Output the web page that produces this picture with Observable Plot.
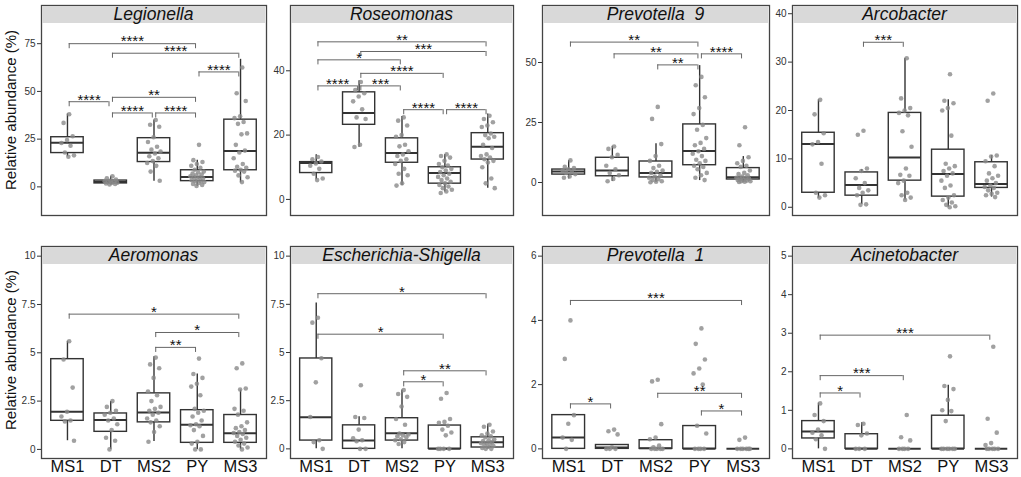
<!DOCTYPE html>
<html><head><meta charset="utf-8">
<script src="https://cdn.jsdelivr.net/npm/d3@7"></script>
<script src="https://cdn.jsdelivr.net/npm/@observablehq/plot@0.6"></script>
<style>
body{margin:0;background:#fff;font-family:"Liberation Sans",Arial,sans-serif;}
#wrap{position:relative;width:1021px;height:477px;overflow:hidden;background:#fff;}
.panel{position:absolute;}
.strip{position:absolute;background:#d9d9d9;font-style:italic;font-size:17.5px;text-align:center;white-space:pre;color:#111;}
.ylab{position:absolute;font-size:15px;white-space:nowrap;color:#111;transform:translate(-50%,-50%) rotate(-90deg);}
</style></head><body><div id="wrap"></div>
<script>
const groups = ["MS1","DT","MS2","PY","MS3"];
const genera = ["Legionella","Roseomonas","Prevotella  9","Arcobacter","Aeromonas","Escherichia-Shigella","Prevotella  1","Acinetobacter"];

// y-axis domains and ticks
const yDomains = [[-15,95],[-5,60.3],[-13.75,73.75],[-1.7,41.7],[-0.47,10.5],[-0.5,10.5],[-0.3,6.3],[-0.25,5.25]];
const yTicks = [[0,25,50,75],[0,20,40],[0,25,50],[0,10,20,30,40],[0,2.5,5,7.5,10],[0,2.5,5,7.5,10],[0,2,4,6],[0,1,2,3,4,5]];

// points per group (MS1, DT, MS2, PY, MS3)
const legionellaPts = [
 [38,33.5,26.5,24.5,23,21.5,18,16.5,15.8],
 [5.5,4.5,3.8,3.2,3,2.8,2.5,2.2,2,1.8,1.5,1.2],
 [35,32.5,31.5,26,23.5,21,19.5,18.5,17.5,16,15,13.5,12.5,11,8,3.2],
 [22,14,13,12,11,10,9,8,7.5,7,6.5,6,5.5,5,5,4.5,4,3.5,3,3,2.5,2,1.5,1,0.5],
 [62.5,49,45,37,36,34,33,28,27.5,22,19,18,15,12,10.5,10,9,8.5,8,6,5,2.5]
];
const roseomonasPts = [
 [13.2,12.5,11.8,11.2,10.5,9.5,8,6.5,6],
 [36.5,34,33,32,30.5,28,25.5,25,17,16.3],
 [25.5,24.5,23,20,19.5,17,16.5,15,14,13.5,12.5,12,11,9.5,8,7.5,5,4.3],
 [14,13.5,13,12,11,10.5,10,9.5,9,8.5,8,7.5,7,6.5,6,5.5,5,4.5,4,3.5,3,2.5,2],
 [26,25,24,23,22.5,20.5,20,19.5,19,17,16,14,13.5,13,12.5,12,11.5,10,6.5,5,3.5]
];
const prevotella9Pts = [
 [9.2,6.5,6,5.5,5,4.5,4,3.5,2.5,2],
 [15,14,11.5,10.5,7,5.5,4,3,1.5,0.5],
 [31.5,26.5,16,11,9,7,6,5,4.5,4,3,2.5,2,1.5,1,0.5,0.3,0.1],
 [44,40.5,35.5,31,28.5,24,22,18.5,16.5,15.5,14,13,12,11,9.5,9,8,7,6.5,5.5,4,3,2,1],
 [23,15.5,10.5,9,8,7,6.5,5,4,3.5,3,2.5,2,2,1.5,1.5,1,1,0.8,0.5,0.5,0.3,0.2]
];
const arcobacterPts = [
 [22.2,19.2,15.3,13.5,13,9,3,2.5,2],
 [15.8,15,8,7.5,6,5,4,3.5,3,2.5,0.6,0.5],
 [30.8,22.5,20.5,20,19.5,19,15.7,12.5,8,6.7,6.5,5.5,5,3,2.5,2,1.5],
 [27.5,22,21.5,20.5,20,14.8,9,8.5,8,7.5,7,6.5,5.5,4.5,4,2.5,2,1.5,1,0.5,0.2,0],
 [23.5,22,10.7,10.5,9.5,8.5,7,6.5,6,5.5,5,4.5,4.2,4,3.5,3,2.8,2.5,2.1]
];
const aeromonasPts = [
 [5.6,4.65,3.2,1.95,1.7,1.5,1.45,0.45],
 [2.5,2.2,2.0,1.9,1.8,1.6,1.5,1.3,1.0,0.6,0.45,0.0],
 [4.75,4.4,4.2,3.7,3.0,2.8,2.5,2.2,2.1,2.0,1.9,1.8,1.6,1.5,1.4,1.2,0.9,0.4],
 [4.7,3.9,3.7,3.4,3.25,2.8,2.1,2.0,1.9,1.7,1.5,1.3,1.25,1.2,1.0,0.7,0.4,0.3,0.0,0.0],
 [4.45,4.2,3.15,3.1,2.1,2.0,1.8,1.4,1.2,1.1,1.0,0.9,0.85,0.8,0.7,0.6,0.5,0.4,0.3,0.2,0.1,0.0]
];
const escherichiaPts = [
 [6.8,6.55,4.7,3.45,1.65,0.45,0.35,0.0],
 [3.3,1.65,1.6,1.0,0.55,0.45,0.4,0.0,0.0],
 [3.05,2.85,2.7,2.2,1.55,1.25,0.8,0.75,0.7,0.65,0.6,0.5,0.45,0.35,0.25],
 [2.9,2.6,1.55,1.4,1.35,1.2,1.0,0.85,0.7,0,0,0,0],
 [1.25,1.15,0.9,0.8,0.7,0.65,0.6,0.5,0.45,0.4,0.35,0.3,0.3,0.25,0.2,0.15,0.1,0.05,0,0]
];
const prevotella1Pts = [
 [4.0,2.8,1.05,0.78,0.35,0.28,0.0],
 [0.6,0.55,0.45,0.05,0.0,0.0,0.0],
 [2.15,2.1,0.77,0.35,0.3,0.1,0.05,0,0,0,0,0],
 [3.75,3.27,2.78,2.5,2.35,2.0,0.72,0.48,0,0,0,0],
 [0.35,0.28,0,0,0,0,0,0]
];
const acinetobacterPts = [
 [1.18,0.88,0.72,0.5,0.42,0.35,0.25,0.0],
 [0.65,0.62,0.4,0.35,0,0,0],
 [0.88,0.3,0.22,0,0,0,0],
 [2.4,1.63,1.55,1.27,1.0,0.98,0.72,0,0,0,0,0,0],
 [2.65,0.78,0.42,0.15,0.1,0,0,0,0,0]
];

// box summaries per group: [lower whisker, Q1, median, Q3, upper whisker]
const legionellaBox = [[15.8,17.7,23.1,26,38.2],[1.0,1.8,2.6,3.3,5.5],[3,13,17.9,25.5,35],[0.3,3,5.2,8.7,13.9],[2.1,8.7,18.8,35.2,66.8]];
const roseomonasBox = [[6.1,8.2,11.3,11.6,13.9],[16.2,23.2,26.9,33.3,36.9],[4.3,11.4,14.4,19.0,25.8],[2.3,4.9,8.2,10.0,14.0],[3.5,12.4,16.4,20.6,26.6]];
const prevotella9Box = [[1.5,3.3,4.6,5.4,9.2],[0.4,2.6,5.0,10.3,15.1],[0.1,2.1,4.0,8.75,16.1],[0.8,7.2,13.1,24.2,48.7],[0.1,1.25,2.2,6.0,10.8]];
const arcobacterBox = [[1.9,3.0,13.1,15.4,22.2],[0.55,2.4,4.6,7.2,7.8],[1.5,5.5,10.3,19.5,30.8],[0,2.2,6.9,11.9,22.2],[2.1,4.0,4.8,9.3,10.7]];
const aeromonasBox = [[0.45,1.48,1.95,4.67,5.6],[0,0.91,1.52,1.86,2.48],[0.41,1.4,1.91,2.9,4.8],[0,0.34,1.28,2.03,3.9],[0,0.34,0.84,1.78,3.07]];
const escherichiaBox = [[0,0.43,1.64,4.69,7.57],[0,0,0.43,1.22,1.67],[0,0.43,0.81,1.59,3.05],[0,0,0,1.21,1.21],[0,0.07,0.34,0.6,1.28]];
const prevotella1Box = [[0,0,0.35,1.05,1.05],[0,0,0.04,0.12,0.12],[0,0,0.02,0.27,0.27],[0,0,0,0.71,0.71],[0,0,0,0,0]];
const acinetobacterBox = [[0,0.27,0.45,0.72,1.19],[0,0,0,0.38,0.68],[0,0,0,0,0],[0,0,0,0.86,1.65],[0,0,0,0,0]];

// significance brackets: [from, to, height, label]
const legionellaSig = [["MS1","PY",75,"****"],["DT","MS3",70,"****"],["PY","MS3",60.2,"****"],["DT","PY",46.9,"**"],["MS1","DT",44.6,"****"],["DT","MS2",38.7,"****"],["MS2","PY",38.7,"****"]];
const roseomonasSig = [["MS1","MS3",49,"**"],["DT","MS3",46,"***"],["MS1","MS2",43.4,"*"],["DT","PY",39.2,"****"],["MS1","DT",35.3,"****"],["DT","MS2",35.3,"***"],["MS2","PY",27.9,"****"],["PY","MS3",27.9,"****"]];
const prevotella9Sig = [["MS1","PY",58.5,"**"],["DT","PY",53.6,"**"],["MS2","PY",49,"**"],["PY","MS3",53.6,"****"]];
const arcobacterSig = [["DT","MS2",34.1,"***"]];
const aeromonasSig = [["MS1","MS3",7.0,"*"],["MS2","MS3",6.05,"*"],["MS2","PY",5.28,"**"]];
const escherichiaSig = [["MS1","MS3",8.05,"*"],["MS1","PY",5.95,"*"],["MS2","MS3",4.05,"**"],["MS2","PY",3.48,"*"]];
const prevotella1Sig = [["MS1","MS3",4.62,"***"],["MS1","DT",1.4,"*"],["MS2","MS3",1.73,"**"],["PY","MS3",1.18,"*"]];
const acinetobacterSig = [["MS1","MS3",2.95,"***"],["MS1","MS2",1.9,"***"],["MS1","DT",1.45,"*"]];

const allPts = [legionellaPts,roseomonasPts,prevotella9Pts,arcobacterPts,aeromonasPts,escherichiaPts,prevotella1Pts,acinetobacterPts];
const allBox = [legionellaBox,roseomonasBox,prevotella9Box,arcobacterBox,aeromonasBox,escherichiaBox,prevotella1Box,acinetobacterBox];
const allSig = [legionellaSig,roseomonasSig,prevotella9Sig,arcobacterSig,aeromonasSig,escherichiaSig,prevotella1Sig,acinetobacterSig];

// layout
const colLeft = [41, 290, 542, 792];
const colWidth = [225, 223, 227, 225];
const rowTop = [5, 246];
const rowHeight = [210, 212];
const ML = 36;
const wrap = document.getElementById("wrap");
const BOX = "#333";
const jitter = k => ((((k + 1) * 0.618034) % 1) - 0.5) * 0.34;

genera.forEach((name, p) => {
  const col = p % 4, row = Math.floor(p / 4);
  const w = colWidth[col], h = rowHeight[row];
  const mb = row === 1 ? 18 : 2;
  const dom = yDomains[p];
  const tip = 0.024 * (dom[1] - dom[0]);
  const dots = allPts[p].flatMap((vals, gi) => vals.map((v, k) => ({x: gi + 1 + jitter(k), y: v})));
  const boxes = allBox[p].map((b, gi) => ({x: gi + 1, lo: b[0], q1: b[1], med: b[2], q3: b[3], hi: b[4]}));
  const sigs = allSig[p].map(s => ({x1: groups.indexOf(s[0]) + 1 + 0.04, x2: groups.indexOf(s[1]) + 1 - 0.04, y: s[2], label: s[3]}));
  const marks = [
    Plot.ruleX(boxes, {x: "x", y1: "lo", y2: "q1", stroke: BOX, strokeWidth: 1.4}),
    Plot.ruleX(boxes, {x: "x", y1: "q3", y2: "hi", stroke: BOX, strokeWidth: 1.4}),
    Plot.rect(boxes, {x1: d => d.x - 0.375, x2: d => d.x + 0.375, y1: "q1", y2: "q3", fill: "white", stroke: BOX, strokeWidth: 1.4}),
    Plot.ruleY(boxes, {y: "med", x1: d => d.x - 0.375, x2: d => d.x + 0.375, stroke: BOX, strokeWidth: 2}),
    Plot.dot(dots, {x: "x", y: "y", r: 2.3, fill: "#8a8a8a", fillOpacity: 0.8, stroke: "none"}),
    Plot.ruleY(sigs, {y: "y", x1: "x1", x2: "x2", stroke: "#666", strokeWidth: 1}),
    Plot.ruleX(sigs, {x: "x1", y1: "y", y2: d => d.y - tip, stroke: "#666", strokeWidth: 1}),
    Plot.ruleX(sigs, {x: "x2", y1: "y", y2: d => d.y - tip, stroke: "#666", strokeWidth: 1}),
    Plot.text(sigs, {x: d => (d.x1 + d.x2) / 2, y: "y", text: "label", dy: -2, fontSize: 15, fill: "#111"}),
    Plot.frame({stroke: "#444", strokeWidth: 1.3}),
    Plot.axisY({ticks: yTicks[p], tickFormat: d => String(d), tickSize: 4, tickPadding: 2, fontSize: 10, label: null, color: "#333"})
  ];
  if (row === 1) {
    marks.push(Plot.axisX({ticks: [1,2,3,4,5], tickFormat: i => groups[i - 1], tickSize: 0, tickPadding: 2, fontSize: 16.5, label: null, color: "#111"}));
  }
  const chart = Plot.plot({
    width: ML + w + 2, height: 1 + h + mb,
    marginLeft: ML, marginRight: 2, marginTop: 1, marginBottom: mb,
    x: {domain: [0.4, 5.6], axis: null},
    y: {domain: dom, axis: null},
    style: {fontFamily: "Liberation Sans, Arial, sans-serif", background: "transparent", overflow: "visible"},
    marks
  });
  const div = document.createElement("div");
  div.className = "panel";
  div.style.left = (colLeft[col] - ML) + "px";
  div.style.top = (rowTop[row] - 1) + "px";
  div.appendChild(chart);
  wrap.appendChild(div);
  const strip = document.createElement("div");
  strip.className = "strip";
  strip.style.left = (colLeft[col] + 1) + "px";
  strip.style.top = (rowTop[row] + 1) + "px";
  strip.style.width = (w - 2) + "px";
  strip.style.height = "17px";
  strip.style.lineHeight = "17px";
  strip.textContent = name;
  wrap.appendChild(strip);
});

[110, 350].forEach(cy => {
  const lab = document.createElement("div");
  lab.className = "ylab";
  lab.style.left = "10px";
  lab.style.top = cy + "px";
  lab.textContent = "Relative abundance (%)";
  wrap.appendChild(lab);
});
</script></body></html>
